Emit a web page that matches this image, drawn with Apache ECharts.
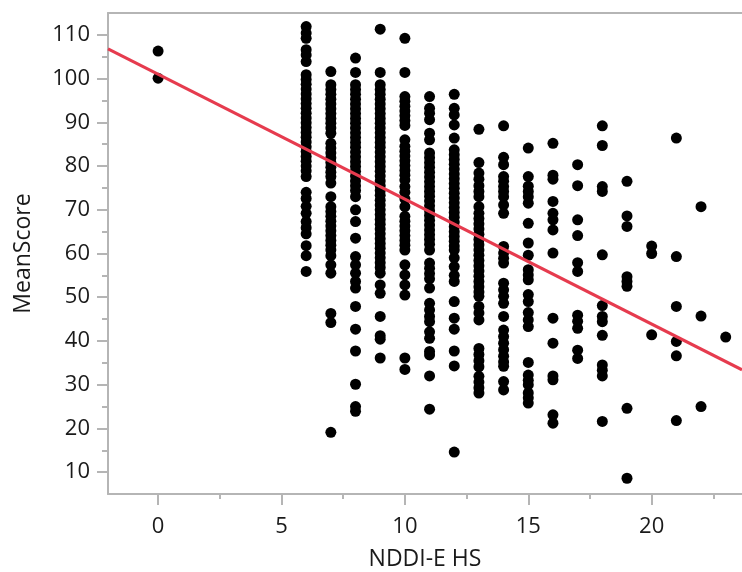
<!DOCTYPE html>
<html>
<head>
<meta charset="utf-8">
<script src="https://cdn.jsdelivr.net/npm/echarts@6/dist/echarts.min.js"></script>
<style>
html,body{margin:0;padding:0;background:#fff;}
#chart{width:742px;height:572px;}
</style>
</head>
<body>
<div id="chart"></div>
<script>
// NDDI-E HS values (x) and MeanScore values (y) read per column
const nddiValues = [0, 6, 7, 8, 9, 10, 11, 12, 13, 14, 15, 16, 17, 18, 19, 20, 21, 22, 23];
const score0 = [106.3, 100.1];
const score6 = [111.9, 110.4, 109.2, 106.6, 105.4, 103.9, 100.9, 99.8, 98.7, 97.6, 96.5, 95.4, 94.3, 93.2, 92.1, 91.0, 89.9, 88.8, 87.7, 86.6, 85.5, 84.4, 83.3, 82.2, 81.1, 80.0, 78.9, 77.6, 74.0, 72.6, 70.8, 69.2, 67.3, 65.9, 64.5, 61.8, 59.5, 55.9];
const score7 = [101.6, 98.6, 97.5, 96.4, 95.3, 94.2, 93.1, 92.0, 90.9, 89.8, 88.7, 87.5, 85.2, 84.1, 83.0, 81.9, 80.8, 79.7, 78.6, 77.6, 76.1, 73.0, 70.7, 69.6, 68.5, 67.4, 66.3, 65.2, 64.1, 63.0, 61.9, 60.8, 59.5, 57.4, 55.5, 46.3, 44.2, 19.1];
const score8 = [104.7, 101.4, 98.6, 97.5, 96.4, 95.3, 94.2, 93.1, 92.0, 90.9, 89.8, 88.7, 87.6, 86.5, 85.4, 84.3, 83.2, 82.1, 81.0, 79.9, 78.8, 77.7, 76.6, 75.5, 74.4, 73.0, 70.0, 67.3, 63.5, 59.3, 57.4, 55.5, 53.6, 52.1, 47.9, 42.7, 37.7, 30.1, 25.0, 23.9];
const score9 = [111.3, 101.4, 98.6, 97.5, 96.4, 95.3, 94.2, 93.1, 92.0, 90.9, 89.8, 88.7, 87.6, 86.5, 85.4, 84.3, 83.2, 82.1, 81.0, 79.9, 78.8, 77.7, 76.6, 75.5, 74.4, 73.3, 72.2, 71.1, 70.0, 68.9, 67.8, 66.7, 65.6, 64.5, 63.4, 62.3, 61.2, 60.1, 59.0, 57.9, 56.8, 55.5, 52.8, 50.9, 45.6, 41.2, 40.4, 36.1];
const score10 = [109.2, 101.4, 95.9, 94.8, 93.7, 92.6, 91.5, 90.4, 89.3, 86.0, 84.5, 83.4, 82.3, 81.2, 80.1, 79.0, 77.9, 76.8, 75.3, 74.0, 72.5, 70.7, 68.5, 67.4, 66.3, 65.2, 64.1, 63.0, 61.9, 60.8, 57.4, 55.1, 52.8, 50.5, 36.1, 33.5];
const score11 = [95.9, 93.2, 92.1, 90.6, 87.5, 86.0, 83.0, 81.9, 80.8, 79.7, 78.6, 77.5, 76.4, 75.3, 74.2, 73.1, 72.0, 70.9, 69.8, 68.7, 67.6, 66.5, 65.4, 64.3, 63.2, 62.1, 60.8, 57.8, 56.6, 55.4, 54.2, 52.1, 48.6, 47.1, 45.6, 44.4, 42.1, 40.6, 37.6, 36.8, 32.0, 24.4];
const score12 = [96.4, 93.2, 91.7, 89.4, 86.4, 83.7, 82.6, 81.5, 80.4, 79.3, 78.2, 77.1, 76.0, 74.9, 73.8, 72.7, 71.6, 70.5, 69.4, 68.3, 67.2, 66.1, 65.0, 63.9, 62.8, 61.7, 60.8, 59.0, 57.0, 55.0, 53.6, 49.0, 45.2, 42.7, 37.7, 34.3, 14.6];
const score13 = [88.4, 80.8, 78.4, 77.0, 75.5, 74.2, 73.0, 70.7, 69.2, 68.0, 66.8, 65.6, 64.4, 63.2, 62.0, 60.8, 59.6, 58.4, 57.2, 56.0, 54.8, 53.6, 52.4, 51.2, 50.2, 47.9, 46.4, 44.8, 38.3, 36.9, 35.5, 34.1, 31.9, 30.6, 29.3, 28.1];
const score14 = [89.2, 82.0, 80.3, 77.6, 76.5, 75.3, 74.2, 73.0, 71.1, 69.2, 61.6, 60.1, 58.9, 57.8, 53.2, 51.7, 50.2, 48.6, 45.6, 42.5, 41.0, 39.5, 38.0, 36.5, 35.2, 34.2, 30.7, 28.8];
const score15 = [84.1, 77.6, 75.4, 74.2, 73.0, 71.5, 66.9, 62.4, 59.6, 56.3, 55.1, 54.0, 50.6, 49.0, 46.5, 44.8, 43.3, 35.1, 32.2, 31.0, 30.0, 28.1, 27.0, 25.8];
const score16 = [85.2, 77.9, 77.0, 71.9, 69.2, 67.7, 65.4, 60.1, 45.2, 39.5, 32.0, 31.1, 23.1, 21.2];
const score17 = [80.3, 75.5, 67.7, 64.1, 57.9, 55.9, 45.9, 44.5, 42.9, 37.9, 36.0];
const score18 = [89.2, 84.7, 75.3, 74.2, 59.7, 48.1, 45.6, 44.4, 41.3, 34.5, 33.3, 32.0, 21.6];
const score19 = [76.5, 68.6, 66.2, 54.7, 53.6, 52.5, 24.6, 8.6];
const score20 = [61.7, 60.0, 41.4];
const score21 = [86.4, 59.3, 47.9, 39.9, 36.6, 21.8];
const score22 = [70.7, 45.7, 25.0];
const score23 = [40.9];

// Tick values
const xTickLabels = [0, 5, 10, 15, 20];
const xMinorTicks = [2.5, 7.5, 12.5, 17.5, 22.5];
const yTickLabels = [10, 20, 30, 40, 50, 60, 70, 80, 90, 100, 110];
const yMinorTicks = [15, 25, 35, 45, 55, 65, 75, 85, 95, 105];

// Fitted line
const fitIntercept = 101.0;
const fitSlope = -2.857;

const xMin = -2.03, xMax = 23.66, yMin = 5, yMax = 115;

const columns = [score0, score6, score7, score8, score9, score10, score11, score12, score13, score14, score15, score16, score17, score18, score19, score20, score21, score22, score23];
const points = [];
columns.forEach((col, i) => col.forEach(v => points.push([nddiValues[i], v])));
const fitLine = [[xMin, fitIntercept + fitSlope * xMin], [xMax, fitIntercept + fitSlope * xMax]];

const FONT = 'Open Sans';
const axisGrey = '#b5b5b5';
const textCol = '#1a1a1a';

const chart = echarts.init(document.getElementById('chart'));
chart.setOption({
  backgroundColor: '#fff',
  animation: false,
  grid: { left: 108, top: 13, right: 0, bottom: 78, containLabel: false, outerBoundsMode: 'none' },
  xAxis: [
    {
      type: 'value', min: xMin, max: xMax, position: 'bottom',
      name: 'NDDI-E HS', nameLocation: 'middle', nameGap: 54,
      nameTextStyle: { fontFamily: FONT, fontSize: 23, color: textCol },
      axisLine: { show: true, onZero: false, lineStyle: { color: axisGrey, width: 2 } },
      axisTick: { show: true, length: 11, customValues: xTickLabels, lineStyle: { color: axisGrey, width: 2 } },
      axisLabel: { show: true, customValues: xTickLabels, margin: 22, fontFamily: FONT, fontSize: 22, color: textCol },
      splitLine: { show: false }
    },
    {
      type: 'value', min: xMin, max: xMax, position: 'bottom',
      axisLine: { show: false, onZero: false },
      axisTick: { show: true, length: 5, customValues: xMinorTicks, lineStyle: { color: axisGrey, width: 2 } },
      axisLabel: { show: false },
      splitLine: { show: false }
    },
    {
      type: 'value', min: xMin, max: xMax, position: 'top',
      axisLine: { show: true, onZero: false, lineStyle: { color: axisGrey, width: 2 } },
      axisTick: { show: false }, axisLabel: { show: false }, splitLine: { show: false }
    }
  ],
  yAxis: [
    {
      type: 'value', min: yMin, max: yMax, position: 'left',
      name: 'MeanScore', nameLocation: 'middle', nameGap: 73,
      nameTextStyle: { fontFamily: FONT, fontSize: 23, color: textCol },
      axisLine: { show: true, onZero: false, lineStyle: { color: axisGrey, width: 2 } },
      axisTick: { show: true, length: 11, customValues: yTickLabels, lineStyle: { color: axisGrey, width: 2 } },
      axisLabel: { show: true, customValues: yTickLabels, margin: 18, fontFamily: FONT, fontSize: 22, color: textCol },
      splitLine: { show: false }
    },
    {
      type: 'value', min: yMin, max: yMax, position: 'left',
      axisLine: { show: false, onZero: false },
      axisTick: { show: true, length: 6, customValues: yMinorTicks, lineStyle: { color: axisGrey, width: 2 } },
      axisLabel: { show: false },
      splitLine: { show: false }
    }
  ],
  series: [
    {
      type: 'scatter', xAxisIndex: 0, yAxisIndex: 0,
      data: points, symbol: 'circle', symbolSize: 11,
      itemStyle: { color: '#000', opacity: 1 },
      z: 2
    },
    {
      type: 'line', xAxisIndex: 0, yAxisIndex: 0,
      data: fitLine, symbol: 'none', clip: true,
      lineStyle: { color: '#E63B4E', width: 3 },
      z: 3
    }
  ]
});
</script>
</body>
</html>
